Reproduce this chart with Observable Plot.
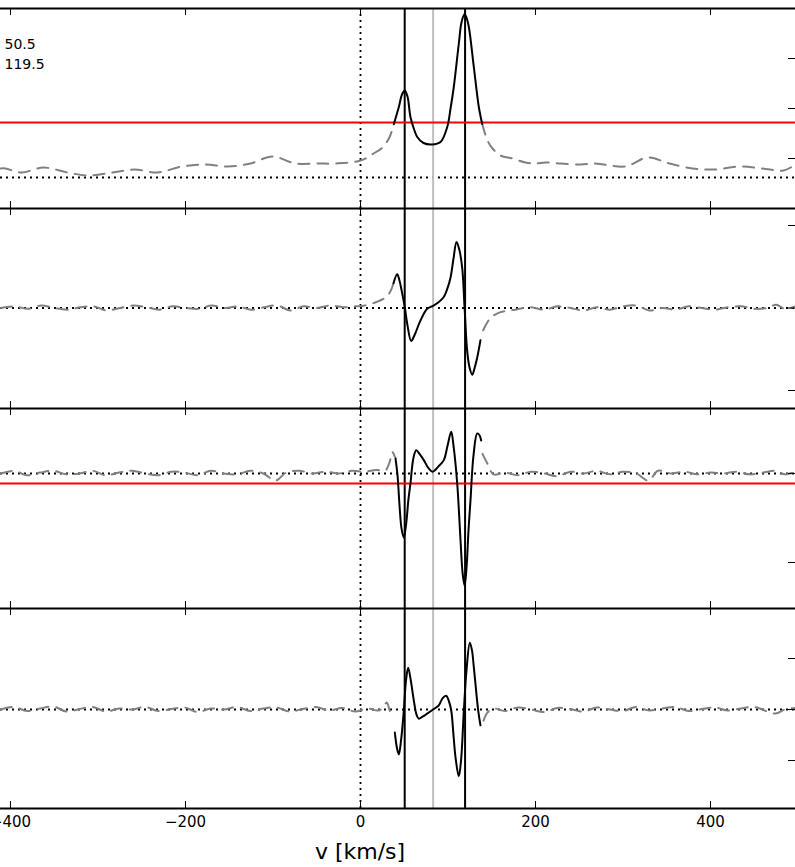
<!DOCTYPE html>
<html><head><meta charset="utf-8">
<script src="https://cdn.jsdelivr.net/npm/d3@7"></script>
<script src="https://cdn.jsdelivr.net/npm/@observablehq/plot@0.6"></script>
<style>
body{margin:0;background:#fff;}
#chart{position:relative;width:795px;height:867px;font-family:"DejaVu Sans",sans-serif;background:#fff;}
#chart svg{display:block;overflow:hidden;}
#xlabel{position:absolute;left:360px;top:841px;transform:translateX(-50%);font-size:22px;line-height:1;white-space:nowrap;}
</style></head><body><div id="chart"></div><script>
// ---- shared axis data ----
const xDomain = [-411.4, 497.1];
const xTicks = [-400, -200, 0, 200, 400];
const lineVel = [50.5, 119.5];     // marked components (black verticals)
const midVel = 83;                 // grey vertical
const xLabel = "v [km/s]";

// ---- panel 1 (intensity) ----
const p1Domain = [0, 4];
const p1Ticks = [1, 2, 3];
const p1Zero = 0.62;
const p1Red = 1.72;
const p1DashL = [[-411.4,0.80],[-405.7,0.80],[-387.4,0.72],[-362.3,0.82],[-334.9,0.72],[-310.9,0.66],[-283.4,0.72],[-258.3,0.78],[-232,0.72],[-204.6,0.84],[-177.1,0.88],[-152,0.84],[-125.7,0.90],[-100.6,1.04],[-74.3,0.90],[-48,0.90],[-28.6,0.90],[0,0.96],[14.9,1.10],[25.1,1.22],[33,1.42],[38.1,1.69]];
const p1Solid = [[38.1,1.69],[43.8,2.03],[47.4,2.28],[50.6,2.36],[53.7,2.24],[57.1,1.83],[60.9,1.60],[64.8,1.43],[72,1.31],[81.9,1.28],[91.4,1.33],[99.1,1.63],[102.9,2.00],[106.6,2.43],[112.3,3.29],[115.4,3.72],[118.9,3.89],[121.1,3.82],[123.8,3.63],[129.5,2.83],[135.2,2.03],[139.1,1.69]];
const p1DashR = [[139.1,1.69],[145.1,1.36],[150.9,1.20],[160,1.06],[173.7,1.00],[188.6,0.92],[198.9,0.90],[211.4,0.92],[228.6,0.90],[251.4,0.88],[268.6,0.90],[277.7,0.88],[302.9,0.84],[328,1.02],[353.1,0.90],[379.4,0.80],[404.6,0.78],[433.1,0.84],[459.4,0.80],[483.4,0.76],[497.1,0.88]];

// ---- panel 2 ----
const p2Domain = [-1.218, 1.206];
const p2Ticks = [-1, 0, 1];
const p2Zero = 0;
const p2DashL = [[-411,0.00],[-395,0.02],[-380,-0.01],[-365,0.03],[-350,0.00],[-335,-0.02],[-320,0.01],[-305,0.02],[-290,-0.03],[-275,0.00],[-260,0.03],[-245,0.01],[-230,-0.02],[-215,0.02],[-200,0.00],[-185,-0.01],[-170,0.03],[-155,0.00],[-140,0.02],[-125,-0.02],[-110,0.01],[-95,0.03],[-80,-0.03],[-65,0.02],[-50,0.00],[-35,0.03],[-20,0.01],[-5,0.02],[5,0.03],[20,0.08],[30,0.14],[35,0.22],[37.7,0.30]];
const p2Solid = [[37.7,0.30],[41.9,0.41],[44.6,0.33],[47.4,0.19],[50.6,0.01],[53.7,-0.21],[57.9,-0.40],[61.7,-0.33],[68.6,-0.15],[76.2,-0.01],[83.4,0.03],[89.1,0.07],[94.9,0.13],[99.4,0.24],[102.9,0.37],[106.3,0.60],[109.7,0.80],[112.6,0.72],[116.2,0.49],[118.9,0.01],[121.9,-0.52],[124.6,-0.72],[127.7,-0.81],[130.3,-0.73],[133.4,-0.60],[137.1,-0.39]];
const p2DashR = [[140.2,-0.27],[148.6,-0.12],[160,-0.05],[177,-0.02],[194,0.01],[210,-0.02],[225,0.02],[240,0.00],[255,-0.03],[270,0.01],[285,-0.02],[300,0.02],[315,0.03],[330,-0.03],[345,0.00],[360,-0.02],[375,0.02],[390,0.00],[405,-0.02],[420,0.01],[435,0.02],[450,-0.01],[465,0.00],[475,0.04],[485,-0.01],[497,0.02]];

// ---- panel 3 ----
const p3Domain = [-1.517, 0.730];
const p3Ticks = [-1, 0];
const p3Zero = 0;
const p3Red = -0.112;
const p3DashL = [[-411,0.00],[-396,0.03],[-381,-0.02],[-366,0.01],[-351,0.03],[-336,-0.01],[-321,0.00],[-306,0.03],[-291,-0.02],[-276,0.01],[-261,0.03],[-246,0.00],[-231,-0.02],[-216,0.02],[-201,0.01],[-186,-0.02],[-171,0.03],[-156,0.00],[-141,-0.01],[-126,0.03],[-111,0.00],[-97,-0.08],[-85,0.01],[-70,0.03],[-55,0.00],[-40,0.02],[-25,0.00],[-10,0.03],[5,0.02],[18,0.04],[28,0.03],[33,0.12],[36.5,0.24],[39,0.19]];
const p3Solid = [[40,0.17],[42.3,-0.02],[44.6,-0.36],[46.9,-0.62],[49.5,-0.72],[52,-0.58],[54.9,-0.28],[57.1,-0.11],[60.6,0.18],[63.7,0.26],[67.4,0.22],[72.3,0.15],[77.7,0.06],[82.6,0.02],[89.1,0.08],[95.2,0.15],[99.4,0.31],[103.7,0.47],[106.3,0.31],[110.5,-0.11],[114.3,-0.75],[116.6,-1.11],[118.9,-1.26],[121.1,-1.07],[123.4,-0.64],[125.7,-0.30],[129.1,0.20],[133.4,0.45],[136,0.43],[137.9,0.37]];
const p3DashR = [[139.4,0.22],[145.1,0.11],[152,-0.01],[165,0.01],[180,-0.02],[195,0.02],[210,0.00],[225,-0.03],[240,0.02],[255,0.00],[270,0.03],[285,-0.01],[300,0.02],[315,0.00],[329,-0.08],[340,0.03],[355,0.00],[370,0.02],[385,-0.01],[400,0.01],[415,0.00],[430,0.02],[445,-0.01],[460,0.01],[475,0.03],[485,-0.01],[497,0.02]];

// ---- panel 4 ----
const p4Domain = [-1.94, 1.98];
const p4Ticks = [-1, 0, 1];
const p4Zero = 0;
const p4DashL = [[-411,0.00],[-396,0.05],[-381,-0.03],[-366,0.02],[-351,0.06],[-336,-0.04],[-321,0.01],[-306,0.05],[-291,-0.04],[-276,0.02],[-261,0.00],[-246,0.05],[-231,-0.03],[-216,0.01],[-201,0.04],[-186,-0.05],[-171,0.02],[-156,0.00],[-141,0.05],[-126,-0.03],[-111,0.02],[-96,0.04],[-81,-0.04],[-66,0.01],[-51,0.05],[-36,-0.02],[-21,0.03],[-6,-0.04],[8,0.02],[20,-0.02],[26,0.04],[30,0.14],[33,0.00],[36,-0.16]];
const p4Solid = [[39.2,-0.45],[41.7,-0.76],[43.8,-0.88],[46.3,-0.61],[49.5,-0.02],[52,0.57],[54.5,0.82],[57.1,0.61],[60.9,0.18],[64,-0.10],[66.6,-0.18],[70.9,-0.14],[76.2,-0.08],[83.8,0.01],[89.5,0.08],[93.7,0.22],[97.9,0.27],[101.1,0.16],[103.7,-0.02],[106.3,-0.51],[108.6,-0.94],[112.3,-1.31],[114.9,-1.00],[118.1,-0.02],[121.1,0.76],[124.9,1.31],[127.4,1.16],[129.5,0.83],[134.5,-0.02],[137.1,-0.31]];
const p4DashR = [[140.6,-0.22],[145,-0.06],[152,0.02],[165,-0.03],[180,0.04],[195,0.00],[210,-0.05],[225,0.03],[240,0.01],[255,-0.04],[270,0.04],[285,0.00],[300,-0.03],[315,0.05],[330,-0.02],[345,0.02],[360,0.05],[375,-0.03],[390,0.01],[405,0.04],[420,-0.02],[435,0.02],[450,0.05],[474,-0.08],[485,0.00],[497,0.03]];

const W = 795, INNER = 200, TICK = 7;
const px = d => d[0], py = d => d[1];

function panel({domain, ticks, zero, red, dashL, solid, dashR, marginTop = 0, marginBottom = 0, labels = false, note = null}) {
  const marks = [
    Plot.ruleY([zero], {stroke: "black", strokeWidth: 1.8, strokeDasharray: "2,4"}),
    Plot.ruleX([0], {stroke: "black", strokeWidth: 1.8, strokeDasharray: "2,4"}),
    Plot.ruleX([midVel], {stroke: "#bfbfbf", strokeWidth: 2}),
    Plot.ruleX(lineVel, {stroke: "black", strokeWidth: 2}),
  ];
  if (red != null) marks.push(Plot.ruleY([red], {stroke: "#ff0000", strokeWidth: 2}));
  marks.push(
    Plot.line(dashL, {x: px, y: py, stroke: "#808080", strokeWidth: 2, strokeDasharray: "11,8", curve: "catmull-rom"}),
    Plot.line(dashR, {x: px, y: py, stroke: "#808080", strokeWidth: 2, strokeDasharray: "11,8", curve: "catmull-rom"}),
    Plot.line(solid, {x: px, y: py, stroke: "black", strokeWidth: 2, curve: "catmull-rom"}),
    Plot.ruleY(domain, {stroke: "black", strokeWidth: 2}),
    Plot.tickX(xTicks, {x: d => d, insetBottom: INNER - TICK, stroke: "black", strokeWidth: 1}),
    Plot.tickX(xTicks, {x: d => d, insetTop: INNER - TICK, stroke: "black", strokeWidth: 1}),
    Plot.tickY(ticks, {y: d => d, insetLeft: W - TICK, stroke: "black", strokeWidth: 1})
  );
  if (note) marks.push(Plot.text([note], {text: d => d, frameAnchor: "top-left", dx: 4, dy: 27, lineAnchor: "top", lineHeight: 1.4, fontSize: 14, textAnchor: "start", fill: "black"}));
  if (labels) marks.push(Plot.axisX(xTicks, {tickSize: 0, tickPadding: 8, fontSize: 15, label: null, tickFormat: d3.format("")}));
  return Plot.plot({
    width: W,
    height: INNER + marginTop + marginBottom,
    marginTop, marginBottom, marginLeft: 0, marginRight: 0,
    x: {domain: xDomain, axis: null},
    y: {domain, axis: null},
    style: {fontFamily: "DejaVu Sans", fontSize: "14px", background: "transparent", overflow: "hidden", color: "black"},
    marks
  });
}

const root = document.getElementById("chart");
root.append(panel({domain: p1Domain, ticks: p1Ticks, zero: p1Zero, red: p1Red, dashL: p1DashL, solid: p1Solid, dashR: p1DashR, marginTop: 8, note: lineVel.map(String).join("\n")}));
root.append(panel({domain: p2Domain, ticks: p2Ticks, zero: p2Zero, dashL: p2DashL, solid: p2Solid, dashR: p2DashR}));
root.append(panel({domain: p3Domain, ticks: p3Ticks, zero: p3Zero, red: p3Red, dashL: p3DashL, solid: p3Solid, dashR: p3DashR}));
root.append(panel({domain: p4Domain, ticks: p4Ticks, zero: p4Zero, dashL: p4DashL, solid: p4Solid, dashR: p4DashR, marginBottom: 59, labels: true}));
const lab = document.createElement("div");
lab.id = "xlabel";
lab.textContent = xLabel;
root.append(lab);
</script></body></html>
